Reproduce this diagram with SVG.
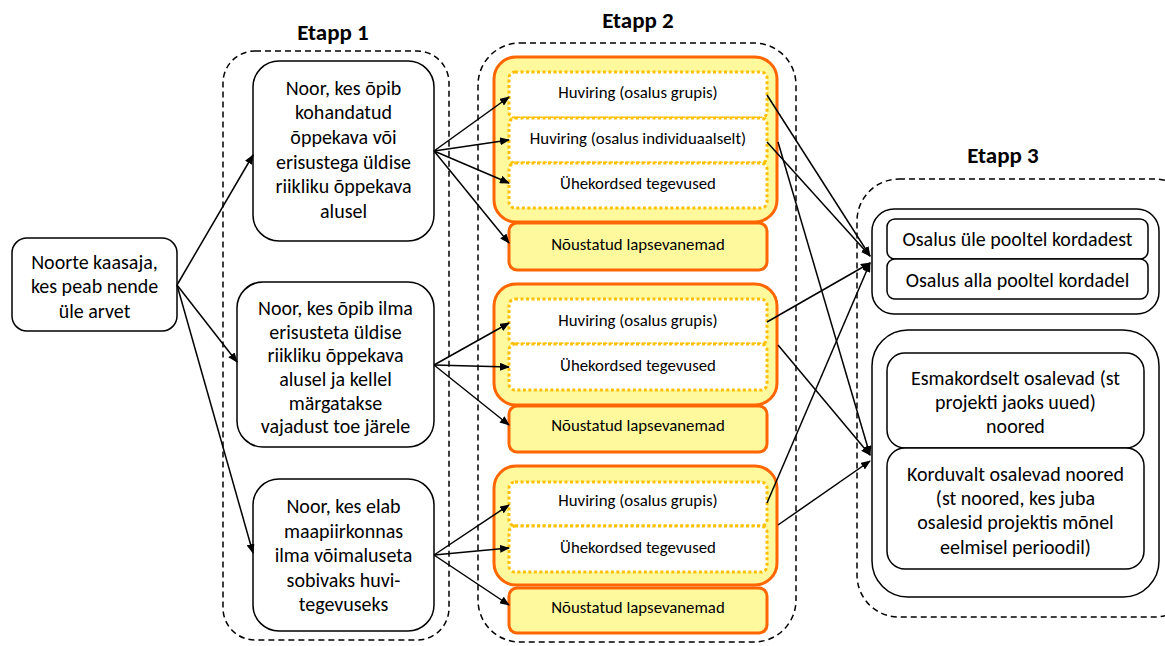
<svg xmlns="http://www.w3.org/2000/svg" width="1165" height="646" viewBox="0 0 1165 646">
<style>
text{font-family:Carlito,Lato,"Liberation Sans",sans-serif;fill:#000;text-anchor:middle;dominant-baseline:central}
.t{font-size:20px}
.s{font-size:16.8px}
.h{font-size:23px;font-weight:bold}
.node{fill:#fff;stroke:#000;stroke-width:1.5}
.dash{fill:none;stroke:#000;stroke-width:1.5;stroke-dasharray:6 4}
.org{fill:#FFF99E;stroke:#FF6600;stroke-width:3}
.dot{fill:#fff;stroke:#FFC000;stroke-width:3;stroke-dasharray:3 2.5}
.c{stroke:#000;stroke-width:1.5;fill:none;marker-end:url(#ah)}
</style>
<defs>
<marker id="ah" markerWidth="10" markerHeight="8" refX="9" refY="4" orient="auto" markerUnits="userSpaceOnUse">
<path d="M0,0 L10,4 L0,8 Z" fill="#000"/>
</marker>
</defs>
<rect width="1165" height="646" fill="#fff"/>

<g id="containers">
<rect class="dash" x="223" y="51" width="226" height="589" rx="32"/>
<rect class="dash" x="478" y="43" width="318" height="599" rx="42"/>
<rect class="dash" x="857" y="179" width="340" height="438" rx="42"/>
<text class="h" x="333" y="32">Etapp 1</text>
<text class="h" x="638" y="20">Etapp 2</text>
<text class="h" x="1003" y="155">Etapp 3</text>
</g>

<g id="nodeA">
<rect class="node" x="12" y="238" width="165" height="93" rx="15"/>
<text class="t" x="94.5" y="262">Noorte kaasaja,</text>
<text class="t" x="94.5" y="286">kes peab nende</text>
<text class="t" x="94.5" y="311">üle arvet</text>
</g>

<g id="nodeB1">
<rect class="node" x="253" y="61" width="181" height="180" rx="26"/>
<text class="t" x="343.5" y="88">Noor, kes õpib</text>
<text class="t" x="343.5" y="112">kohandatud</text>
<text class="t" x="343.5" y="137">õppekava või</text>
<text class="t" x="343.5" y="162">erisustega üldise</text>
<text class="t" x="343.5" y="186">riikliku õppekava</text>
<text class="t" x="343.5" y="211">alusel</text>
</g>

<g id="nodeB2">
<rect class="node" x="237" y="282" width="197" height="165" rx="26"/>
<text class="t" x="335.5" y="308">Noor, kes õpib ilma</text>
<text class="t" x="335.5" y="332">erisusteta üldise</text>
<text class="t" x="335.5" y="355">riikliku õppekava</text>
<text class="t" x="335.5" y="379">alusel ja kellel</text>
<text class="t" x="335.5" y="403">märgatakse</text>
<text class="t" x="335.5" y="426">vajadust toe järele</text>
</g>

<g id="nodeB3">
<rect class="node" x="253" y="479" width="181" height="152" rx="26"/>
<text class="t" x="343.5" y="506">Noor, kes elab</text>
<text class="t" x="343.5" y="531">maapiirkonnas</text>
<text class="t" x="343.5" y="555">ilma võimaluseta</text>
<text class="t" x="343.5" y="580">sobivaks huvi-</text>
<text class="t" x="343.5" y="604">tegevuseks</text>
</g>

<g id="group1">
<rect class="org" x="494" y="57" width="283" height="165" rx="22"/>
<rect class="dot" x="509" y="72" width="258" height="46" rx="6"/>
<rect class="dot" x="509" y="118" width="258" height="45" rx="6"/>
<rect class="dot" x="509" y="163" width="258" height="45" rx="6"/>
<text class="s" x="638" y="92">Huviring (osalus grupis)</text>
<text class="s" x="638" y="138">Huviring (osalus individuaalselt)</text>
<text class="s" x="638" y="183">Ühekordsed tegevused</text>
</g>
<g id="parents1">
<rect class="org" x="509" y="223" width="258" height="47" rx="8"/>
<text class="s" x="638" y="244">Nõustatud lapsevanemad</text>
</g>

<g id="group2">
<rect class="org" x="494" y="284" width="283" height="121" rx="22"/>
<rect class="dot" x="509" y="299" width="258" height="45" rx="6"/>
<rect class="dot" x="509" y="344" width="258" height="46" rx="6"/>
<text class="s" x="638" y="320">Huviring (osalus grupis)</text>
<text class="s" x="638" y="365">Ühekordsed tegevused</text>
</g>
<g id="parents2">
<rect class="org" x="509" y="406" width="258" height="46" rx="8"/>
<text class="s" x="638" y="425">Nõustatud lapsevanemad</text>
</g>

<g id="group3">
<rect class="org" x="494" y="466" width="283" height="119" rx="22"/>
<rect class="dot" x="509" y="482" width="258" height="44" rx="6"/>
<rect class="dot" x="509" y="526" width="258" height="46" rx="6"/>
<text class="s" x="638" y="500">Huviring (osalus grupis)</text>
<text class="s" x="638" y="547">Ühekordsed tegevused</text>
</g>
<g id="parents3">
<rect class="org" x="509" y="588" width="258" height="45" rx="8"/>
<text class="s" x="638" y="607">Nõustatud lapsevanemad</text>
</g>

<g id="nodeC1">
<rect class="node" x="872" y="209" width="287" height="105" rx="22"/>
<rect class="node" x="887" y="219" width="261" height="40" rx="8"/>
<rect class="node" x="887" y="259" width="261" height="40" rx="8"/>
<text class="t" x="1017.5" y="239">Osalus üle pooltel kordadest</text>
<text class="t" x="1017.5" y="280">Osalus alla pooltel kordadel</text>
</g>

<g id="nodeC2">
<rect class="node" x="872" y="330" width="287" height="267" rx="36"/>
<rect class="node" x="887" y="353" width="257" height="95" rx="18"/>
<rect class="node" x="887" y="448" width="257" height="121" rx="18"/>
<text class="t" x="1015.5" y="378">Esmakordselt osalevad (st</text>
<text class="t" x="1015.5" y="402">projekti jaoks uued)</text>
<text class="t" x="1015.5" y="426">noored</text>
<text class="t" x="1015.5" y="474">Korduvalt osalevad noored</text>
<text class="t" x="1015.5" y="498">(st noored, kes juba</text>
<text class="t" x="1015.5" y="522">osalesid projektis mõnel</text>
<text class="t" x="1015.5" y="547">eelmisel perioodil)</text>
</g>

<g id="connectors">
<line class="c" x1="177" y1="285" x2="253" y2="155"/>
<line class="c" x1="177" y1="285" x2="237" y2="362"/>
<line class="c" x1="177" y1="285" x2="253" y2="553"/>

<line class="c" x1="434" y1="151" x2="509" y2="97"/>
<line class="c" x1="434" y1="151" x2="509" y2="140"/>
<line class="c" x1="434" y1="151" x2="509" y2="183"/>
<line class="c" x1="434" y1="151" x2="509" y2="243"/>

<line class="c" x1="434" y1="365" x2="509" y2="323"/>
<line class="c" x1="434" y1="365" x2="509" y2="367"/>
<line class="c" x1="434" y1="365" x2="509" y2="425"/>

<line class="c" x1="434" y1="555" x2="509" y2="505"/>
<line class="c" x1="434" y1="555" x2="509" y2="548"/>
<line class="c" x1="434" y1="555" x2="509" y2="605"/>

<line class="c" x1="767" y1="95" x2="870" y2="256"/>
<line class="c" x1="767" y1="142" x2="870" y2="256"/>
<line class="c" x1="767" y1="322" x2="870" y2="263"/>
<line class="c" x1="767" y1="503" x2="870" y2="263"/>
<line class="c" x1="778" y1="142" x2="870" y2="455"/>
<line class="c" x1="778" y1="345" x2="870" y2="455"/>
<line class="c" x1="778" y1="525" x2="870" y2="461"/>
</g>
</svg>
